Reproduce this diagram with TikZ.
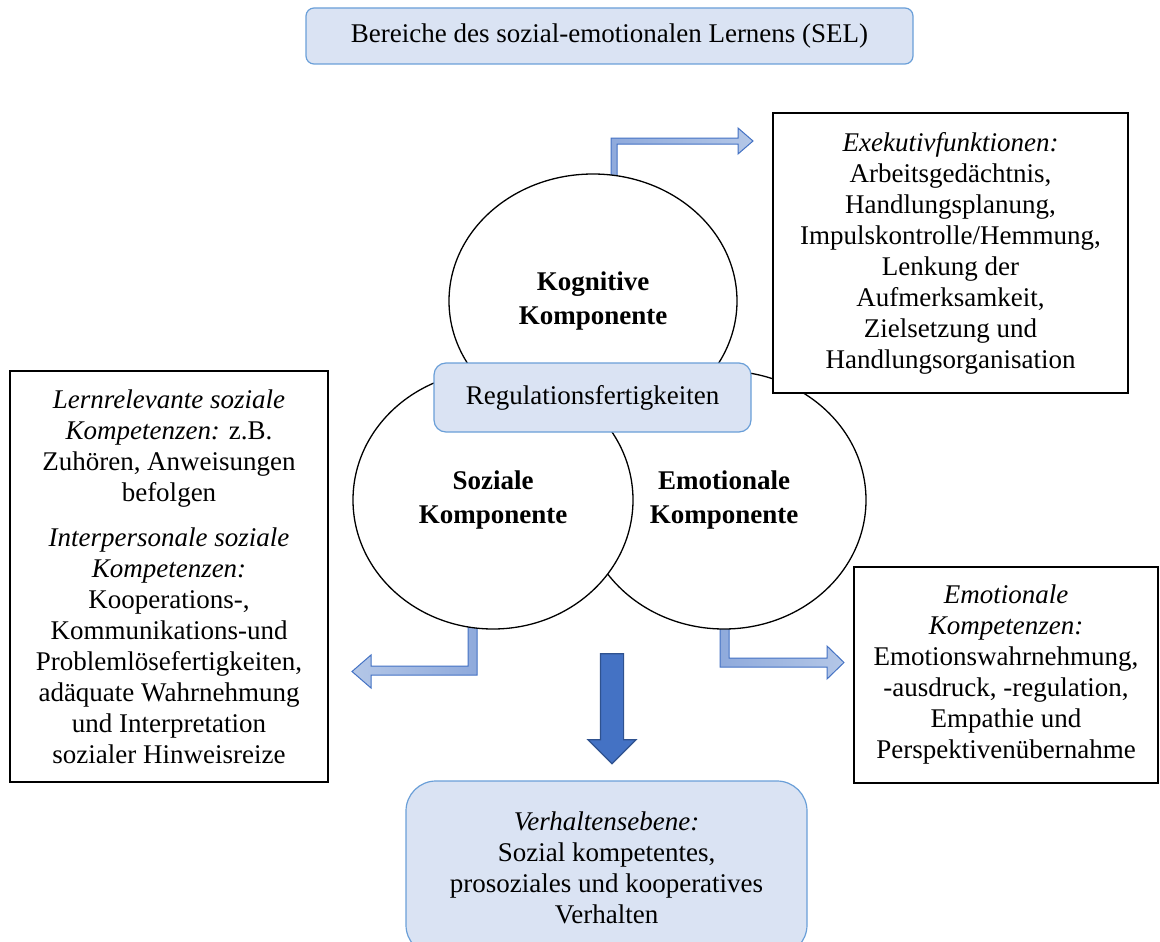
\documentclass[tikz,border=0pt]{standalone}
\usepackage{fontspec}
\setmainfont{Liberation Serif}
\usepackage{tikz}
\usetikzlibrary{positioning}
\usetikzlibrary{shapes}
\usetikzlibrary{backgrounds}
\definecolor{selfill}{HTML}{DAE3F3}
\definecolor{selrand}{HTML}{6A9FD8}
\definecolor{pfeilrand}{HTML}{4472C4}
\definecolor{pfeildunkel}{HTML}{8FAADC}
\definecolor{pfeilhell}{HTML}{B4C7E7}
\definecolor{pfeilrandII}{HTML}{2F528F}
\tikzstyle{feld}        = [draw=selrand, line width=1.2pt, fill=selfill, rounded corners=8pt, inner sep=0pt, align=center]
\tikzstyle{kasten}      = [draw, line width=1.3pt, fill=white, inner sep=0pt, align=center]
\tikzstyle{komponente}  = [draw, ellipse, line width=1.3pt, fill=white, inner sep=0pt, align=center, font=\fontsize{27}{34}\selectfont\bfseries]
\tikzstyle{winkelpfeil} = [draw=pfeilrand, line width=1pt, line join=miter]
\tikzstyle{hauptpfeil}  = [draw=pfeilrandII, line width=1.2pt, fill=pfeilrand, single arrow, shape border rotate=270, inner xsep=11pt, inner ysep=0pt, single arrow head extend=12.5pt, minimum width=47pt, minimum height=110pt]

\begin{document}
\begin{tikzpicture}[x=1pt, y=-1pt, every node/.style={font=\fontsize{27}{31}\selectfont}]
	\path[use as bounding box] (0,0) rectangle (1160,942);
	\clip (0,0) rectangle (1160,942);

	\node[feld, minimum width=607pt, minimum height=56pt] (sel) at (609.5,36) {Bereiche des sozial-emotionalen Lernens (SEL)};

	\node[komponente, minimum width=288pt, minimum height=254pt] (kog) at (593,301) {Kognitive\\Komponente};
	\node[komponente, minimum width=284pt, minimum height=258pt] (emo) at (724,500) {Emotionale\\Komponente};
	\node[komponente, minimum width=280pt, minimum height=258pt] (soz) at (493,500) {Soziale\\Komponente};
	\node[feld, rounded corners=12pt, minimum width=317pt, minimum height=69pt] (reg) at (592.5,397.5) {Regulationsfertigkeiten};

	\node[kasten, minimum width=355pt, minimum height=280pt] (exe) at (950.5,253) {\textit{Exekutivfunktionen:}\\ Arbeitsgedächtnis,\\ Handlungsplanung,\\ Impulskontrolle/Hemmung,\\ Lenkung der\\ Aufmerksamkeit,\\ Zielsetzung und\\ Handlungsorganisation};
	\node[kasten, minimum width=318pt, minimum height=411pt] (lern) at (169,576.5) {\textit{Lernrelevante soziale}\\ \textit{Kompetenzen:} z.B.\\ Zuhören, Anweisungen\\ befolgen\\[14pt] \textit{Interpersonale soziale}\\ \textit{Kompetenzen:}\\ Kooperations-,\\ Kommunikations-und\\ Problemlösefertigkeiten,\\ adäquate Wahrnehmung\\ und Interpretation\\ sozialer Hinweisreize};
	\node[kasten, minimum width=304pt, minimum height=216pt] (emokomp) at (1006,675) {\textit{Emotionale}\\ \textit{Kompetenzen:}\\ Emotionswahrnehmung,\\ -ausdruck, -regulation,\\ Empathie und\\ Perspektivenübernahme};

	\node[feld, rounded corners=30pt, minimum width=401pt, minimum height=174pt] (verh) at (606.5,868) {\textit{Verhaltensebene:}\\ Sozial kompetentes,\\ prosoziales und kooperatives\\ Verhalten};
	\node[hauptpfeil] (pfeil) at (612,703) {};

	\begin{scope}[on background layer]
		% Kognitive -> Exekutivfunktionen
		\path[winkelpfeil, left color=pfeildunkel, right color=pfeilhell]
			(611,200) -- (611,138) -- (738,138) -- (738,128) -- (753,141) -- (738,154) -- (738,144) -- (617,144) -- (617,200) -- cycle;
		% Soziale -> soziale Kompetenzen
		\path[winkelpfeil, left color=pfeilhell, right color=pfeildunkel]
			(477,600) -- (477,675) -- (371,675) -- (371,688) -- (352,671.5) -- (371,655) -- (371,666) -- (468,666) -- (468,600) -- cycle;
		% Emotionale -> emotionale Kompetenzen
		\path[winkelpfeil, left color=pfeildunkel, right color=pfeilhell]
			(720,600) -- (720,667) -- (827,667) -- (827,679) -- (844,662.5) -- (827,646) -- (827,658) -- (729,658) -- (729,600) -- cycle;
	\end{scope}
\end{tikzpicture}
\end{document}
